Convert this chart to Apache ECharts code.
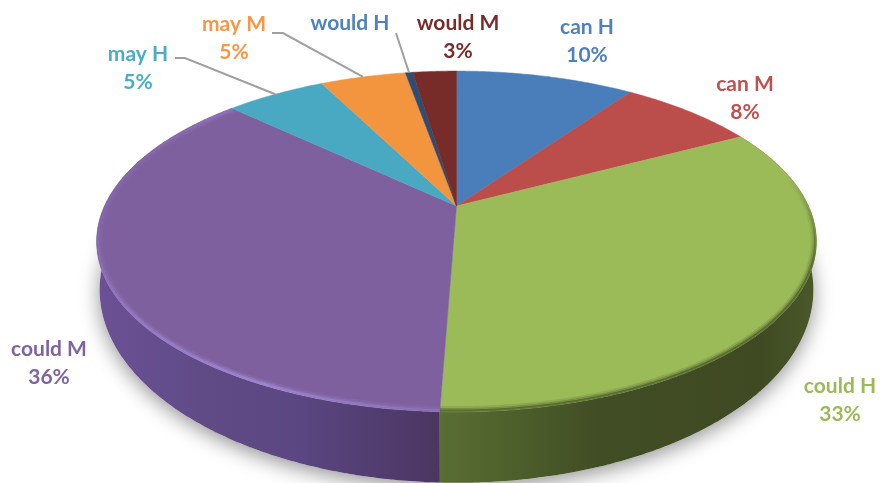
<!DOCTYPE html>
<html>
<head>
<meta charset="utf-8">
<style>html,body{margin:0;padding:0;background:#fff}#c{width:880px;height:483px}</style>
<script src="https://cdn.jsdelivr.net/npm/echarts@6/dist/echarts.min.js"></script>
</head>
<body>
<div id="c"></div>
<script>
var categories = ['can H', 'can M', 'could H', 'could M', 'may H', 'may M', 'would H', 'would M'];
var values = [9.8, 7.5, 33.3, 36.4, 5.5, 4.7, 0.4, 2.4];
var percentLabels = ['10%', '8%', '33%', '36%', '5%', '5%', '', '3%'];

var sliceColors = ['#4a7ebb', '#bb4e4b', '#9bbb59', '#7f609f', '#49a9c2', '#f3953f', '#2c4d75', '#772c2a'];
var labelColors = ['#4f81bd', '#c0504d', '#9bbb59', '#8064a2', '#4bacc6', '#f79646', '#4f81bd', '#772c2a'];
var labelAnchors = [[587, 26], [745, 83], [840, 385], [49, 348], [138, 53], [234, 23], [350, 22], [458, 22]];
var leaderStarts = { 4: [[175, 58], [185, 58]], 5: [[272, 33], [283, 33]], 6: [[396, 33]] };
var wallStops = {
  2: [[0, '#596e33'], [0.18, '#4e612c'], [0.42, '#414d24'], [0.85, '#3f4a22'], [1, '#4a5829']],
  3: [[0, '#6a5195'], [0.3, '#614b87'], [0.6, '#5a4680'], [1, '#4b3562']]
};

var APEX_X = 456.5, APEX_Y = 206, PERSP = 0.208, SCALE_X = 352, SCALE_Y = 163;
var ELL_CY = 241.5, ELL_RX = 360, ELL_RY = 170.5;
var BASE_CY = 290, BASE_SX = 357 / ELL_RX, BASE_SY = 193 / ELL_RY;
var total = values.reduce(function (a, b) { return a + b; }, 0);

function topPoint(frac, inset) {
  var t = frac * 2 * Math.PI, u = Math.sin(t), v = Math.cos(t), d = 1 + PERSP * v;
  var x = APEX_X + SCALE_X * u / d, y = APEX_Y - SCALE_Y * v / d;
  if (inset) {
    x = APEX_X + (x - APEX_X) * (1 - inset / ELL_RX);
    y = ELL_CY + (y - ELL_CY) * (1 - inset / ELL_RY);
  }
  return [x, y];
}
function basePoint(p) {
  return [APEX_X + (p[0] - APEX_X) * BASE_SX, BASE_CY + (p[1] - ELL_CY) * BASE_SY];
}
function arc(a, b, inset) {
  var n = Math.max(2, Math.ceil((b - a) * 720)), pts = [];
  for (var i = 0; i <= n; i++) pts.push(topPoint(a + (b - a) * i / n, inset));
  return pts;
}
function startOf(i) {
  var s = 0;
  for (var j = 0; j < i; j++) s += values[j];
  return s / total;
}
function rimGradient(i) {
  if (i === 3) {
    return new echarts.graphic.LinearGradient(97, 170, 440, 410, [
      { offset: 0, color: 'rgba(165,140,222,0)' },
      { offset: 0.25, color: 'rgba(165,140,222,0.75)' },
      { offset: 0.62, color: 'rgba(172,150,230,1)' },
      { offset: 1, color: 'rgba(165,140,222,0.45)' }
    ], true);
  }
  return new echarts.graphic.LinearGradient(0, 175, 0, 265, [
    { offset: 0, color: 'rgba(62,74,33,0)' },
    { offset: 1, color: 'rgba(62,74,33,1)' }
  ], true);
}

function renderItem(params, api) {
  var i = params.dataIndex, val = api.value(0);
  var a = startOf(i), b = a + val / total;
  var children = [];
  var edge = arc(a, b);

  if (i === 0) {
    children.push({
      type: 'polygon', z2: 0, silent: true,
      shape: { points: arc(0, 1).map(basePoint) },
      style: { fill: '#ffffff', shadowBlur: 20, shadowColor: 'rgba(0,0,0,0.42)', shadowOffsetY: 5 }
    });
  }
  if (wallStops[i]) {
    var lower = edge.map(basePoint).reverse();
    var xs = edge.map(function (p) { return p[0]; });
    var x0 = Math.min.apply(null, xs), x1 = Math.max.apply(null, xs);
    children.push({
      type: 'polygon', z2: 1,
      shape: { points: edge.concat(lower) },
      style: {
        fill: new echarts.graphic.LinearGradient(x0, 0, x1, 0,
          wallStops[i].map(function (s) { return { offset: s[0], color: s[1] }; }), true)
      }
    });
  }
  children.push({
    type: 'polygon', z2: 2,
    shape: { points: [[APEX_X, APEX_Y]].concat(edge) },
    style: { fill: sliceColors[i], stroke: sliceColors[i], lineWidth: 0.5 }
  });
  if (wallStops[i]) {
    [[1, 2.5, 0.6], [2.5, 2.5, 0.35], [4.5, 2.5, 0.15]].forEach(function (r) {
      children.push({
        type: 'polyline', z2: 3, silent: true,
        shape: { points: arc(a, b, r[0]) },
        style: { fill: null, lineWidth: r[1], opacity: r[2], stroke: rimGradient(i) }
      });
    });
  }
  if (leaderStarts[i]) {
    children.push({
      type: 'polyline', z2: 4, silent: true,
      shape: { points: leaderStarts[i].concat([topPoint((a + b) / 2)]) },
      style: { fill: null, stroke: '#a0a0a0', lineWidth: 2 }
    });
  }
  var text = categories[i] + (percentLabels[i] ? '\n' + percentLabels[i] : '');
  children.push({
    type: 'text', z2: 5, silent: true,
    x: labelAnchors[i][0], y: labelAnchors[i][1] - 13,
    style: {
      text: text, fill: labelColors[i], align: 'center', verticalAlign: 'top',
      font: '700 21px Lato', lineHeight: 28
    }
  });
  return { type: 'group', children: children };
}

var chart = echarts.init(document.getElementById('c'), null, { renderer: 'canvas' });
chart.setOption({
  animation: false,
  backgroundColor: '#ffffff',
  series: [{
    type: 'custom',
    coordinateSystem: 'none',
    renderItem: renderItem,
    data: values.map(function (v, i) { return { name: categories[i], value: [v] }; })
  }]
});
</script>
</body>
</html>
